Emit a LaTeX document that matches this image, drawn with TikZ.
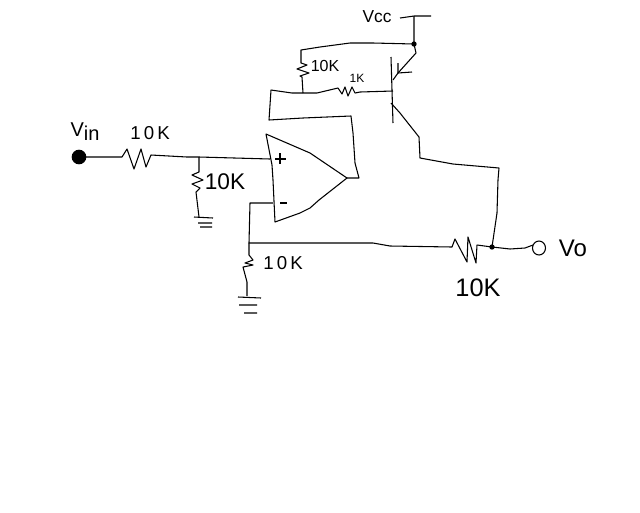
\documentclass[tikz,border=0pt]{standalone}
\usepackage{fontspec}
\setmainfont{Liberation Sans}
\tikzset{
  wire/.style={line width=0.8pt,black,line join=round},
  lbl/.style={inner sep=0pt,font=\fontsize{#1}{#1}\selectfont},
  lbl/.default=13,
  junct/.style={circle,fill=black,inner sep=0pt,minimum size=#1},
}
\begin{document}
\begin{tikzpicture}[x=0.75pt,y=-0.75pt]
\useasboundingbox[fill=white] (0,0) rectangle (640,512);
% junctions
\coordinate (vcctop) at (414,16);
\coordinate (vccj) at (414,44);
\coordinate (basej) at (303,93);
\coordinate (base) at (393,91);
\coordinate (opplus) at (270,159);
\coordinate (divj) at (199,157);
\coordinate (opminus) at (273,203);
\coordinate (fbj) at (249,243);
\coordinate (outj) at (492,247);
\coordinate (optip) at (347,178);
% input
\node[junct=11pt] (vin) at (79,157) {};
\draw[wire] (vin.center) -- (122,157) -- (127,149) -- (134,169) -- (141,149) -- (146,167) -- (151,155) -- (187,157) -- (divj) -- (opplus);
% divider resistor and ground
\draw[wire] (divj) -- (199,172) -- (192,175) -- (203,180) -- (192,184) -- (200,188) -- (196,192) -- (199,217);
\draw[wire] (194,217) -- (213,218) (198,223) -- (212,223) (200,227) -- (212,227);
% op amp
\draw[wire] (266,134) -- (310,153) -- (optip) -- (319,200) -- (310,208) -- (300,213) -- (275,222) -- (273,180) -- (272,165) -- cycle;
\draw[wire] (280,153) -- (280,164) (275,159) -- (286,159) (280,203) -- (287,203);
% feedback
\draw[wire] (opminus) -- (250,203) -- (fbj) -- (373,243) -- (390,246) -- (452,247) -- (455,239) -- (467,262) -- (468,237) -- (476,263) -- (477,245) -- (outj) -- (510,249) -- (525,248) -- (533,245);
\draw[wire] (539,248) ellipse [x radius=6.5,y radius=7];
\node[junct=4pt] (outdot) at (outj) {};
% lower resistor and ground
\draw[wire] (fbj) -- (249,255) -- (253,260) -- (245,263) -- (253,265) -- (243,267) -- (247,282) -- (247,296);
\draw[wire] (238,297) -- (261,298) (239,305) -- (257,305) (244,313) -- (257,313);
% op amp output to base
\draw[wire] (optip) -- (359,178) -- (355,163) -- (353,133) -- (351,116) -- (303,118) -- (269,120) -- (271,90) -- (292,93) -- (basej) -- (317,93) -- (338,88) -- (342,94) -- (345,87) -- (348,96) -- (352,87) -- (355,93) -- (360,92) -- (base);
% pull-up
\draw[wire] (basej) -- (302,77) -- (300,76) -- (309,73) -- (297,69) -- (307,65) -- (301,63) -- (301,50) -- (320,47) -- (350,43) -- (373,43) -- (vccj);
\draw[wire] (400,18) -- (vcctop) -- (431,16);
\draw[wire] (vcctop) -- (vccj) -- (416,53) -- (407,63) -- (398,73) -- (393,80);
\node[junct=4pt] (vccdot) at (vccj) {};
% transistor
\draw[wire] (391,57) -- (393,123);
\draw[wire] (398,63) -- (398,73) -- (412,72);
\draw[wire] (391,103) -- (400,113) -- (419,137) -- (420,158) -- (453,164) -- (499,168) -- (498,180) -- (497,213) -- (outj);
% labels
\node[lbl=15] (lvin) at (85,132) {V\raisebox{-3pt}{in}};
\node[lbl=14] (l1) at (150,133) {1\,0\,K};
\node[lbl=17] (l2) at (225,182) {10K};
\node[lbl=13] (lvcc) at (377,17) {Vcc};
\node[lbl=12] (l3) at (325,66) {10K};
\node[lbl=9] (l4) at (357,78) {1K};
\node[lbl=14] (l5) at (283,263) {1\,0\,K};
\node[lbl=19] (l6) at (478,288) {10K};
\node[lbl=18] (lvo) at (573,248) {Vo};
\end{tikzpicture}
\end{document}
